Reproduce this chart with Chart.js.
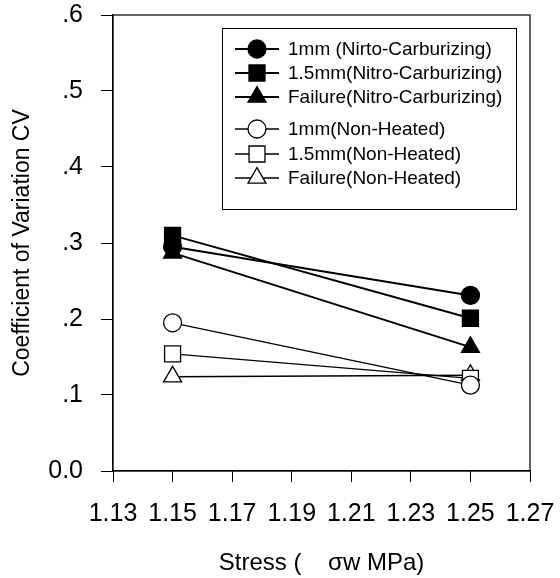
<!DOCTYPE html>
<html>
<head>
<meta charset="utf-8">
<script src="https://cdn.jsdelivr.net/npm/chart.js"></script>
<style>
  html, body { margin: 0; padding: 0; background: #fff; }
  #wrap { width: 560px; height: 578px; }
</style>
</head>
<body>
<div id="wrap"><canvas id="cv"></canvas></div>
<script>
// Stress levels (x) and coefficient of variation per specimen group
const stress   = [1.15, 1.25];
const nc1mm    = [0.295, 0.231];
const nc15mm   = [0.310, 0.201];
const ncFail   = [0.287, 0.163];
const nh1mm    = [0.195, 0.113];
const nh15mm   = [0.154, 0.122];
const nhFail   = [0.124, 0.126];

const seriesNames = [
  '1mm (Nirto-Carburizing)',
  '1.5mm(Nitro-Carburizing)',
  'Failure(Nitro-Carburizing)',
  '1mm(Non-Heated)',
  '1.5mm(Non-Heated)',
  'Failure(Non-Heated)'
];

const xTicks = [1.13, 1.15, 1.17, 1.19, 1.21, 1.23, 1.25, 1.27];
const yTicks = [0, 0.1, 0.2, 0.3, 0.4, 0.5, 0.6];

const FONT = "'Liberation Sans', Arial, sans-serif";

function pts(ys) {
  return stress.map((x, i) => ({ x: x, y: ys[i] }));
}

function serie(label, ys, style, filled) {
  const radius = style === 'circle' ? 9 : (style === 'rect' ? 11.3 : 10.4);
  return {
    label: label,
    data: pts(ys),
    borderColor: '#000',
    backgroundColor: filled ? '#000' : '#fff',
    borderWidth: filled ? 2 : 1.3,
    pointStyle: style,
    pointRadius: radius,
    pointHoverRadius: radius,
    pointBorderWidth: 1.3,
    pointBorderColor: '#000',
    pointBackgroundColor: filled ? '#000' : '#fff',
    tension: 0,
    fill: false
  };
}

const datasets = [
  serie(seriesNames[0], nc1mm,  'circle',   true),
  serie(seriesNames[1], nc15mm, 'rect',     true),
  serie(seriesNames[2], ncFail, 'triangle', true),
  serie(seriesNames[3], nh1mm,  'circle',   false),
  serie(seriesNames[4], nh15mm, 'rect',     false),
  serie(seriesNames[5], nhFail, 'triangle', false)
];

// marker used in the boxed legend
function drawMarker(ctx, style, r, x, y, fill) {
  ctx.beginPath();
  if (style === 'circle') {
    ctx.arc(x, y, r, 0, Math.PI * 2);
  } else if (style === 'rect') {
    const s = r * Math.SQRT1_2;
    ctx.rect(x - s, y - s, 2 * s, 2 * s);
  } else {
    const a = Math.PI * 2 / 3;
    ctx.moveTo(x, y - r);
    ctx.lineTo(x + Math.sin(a) * r, y - Math.cos(a) * r);
    ctx.lineTo(x + Math.sin(2 * a) * r, y - Math.cos(2 * a) * r);
    ctx.closePath();
  }
  ctx.fillStyle = fill;
  ctx.fill();
  ctx.lineWidth = 1.3;
  ctx.strokeStyle = '#000';
  ctx.stroke();
}

const frameAndLegend = {
  id: 'frameAndLegend',
  afterDatasetsDraw(chart) {
    const ctx = chart.ctx;
    const a = chart.chartArea;
    ctx.save();
    // closed frame round the plot
    ctx.strokeStyle = '#000';
    ctx.lineWidth = 1.2;
    ctx.strokeRect(a.left, a.top, a.right - a.left, a.bottom - a.top);

    // legend box
    const bx = 222, by = 28, bw = 294, bh = 181;
    ctx.fillStyle = '#fff';
    ctx.fillRect(bx, by, bw, bh);
    ctx.lineWidth = 1;
    ctx.strokeRect(bx + 0.5, by + 0.5, bw, bh);

    const rows = [49, 73, 97, 129, 154, 178];
    ctx.font = '19px ' + FONT;
    ctx.textBaseline = 'middle';
    chart.data.datasets.forEach((ds, i) => {
      const y = rows[i];
      ctx.beginPath();
      ctx.moveTo(235, y);
      ctx.lineTo(279, y);
      ctx.lineWidth = ds.borderWidth;
      ctx.strokeStyle = '#000';
      ctx.stroke();
      drawMarker(ctx, ds.pointStyle, ds.pointRadius, 257, y, ds.pointBackgroundColor);
      ctx.fillStyle = '#000';
      ctx.fillText(ds.label, 288, y + 1);
    });
    ctx.restore();
  }
};

new Chart(document.getElementById('cv'), {
  type: 'line',
  data: { datasets: datasets },
  plugins: [frameAndLegend],
  options: {
    responsive: true,
    maintainAspectRatio: false,
    animation: false,
    layout: { padding: { top: 15, right: 30, left: 0, bottom: 0 } },
    plugins: {
      legend: { display: false },
      tooltip: { enabled: false }
    },
    scales: {
      x: {
        type: 'linear',
        min: 1.13,
        max: 1.27,
        afterBuildTicks: s => { s.ticks = xTicks.map(v => ({ value: v })); },
        afterFit: s => { s.height = 107; s.paddingLeft = 0; s.paddingRight = 0; },
        grid: { drawOnChartArea: false, color: '#000', tickLength: 11, lineWidth: 1 },
        border: { color: '#000', width: 1.2 },
        ticks: {
          color: '#000',
          padding: 17,
          maxRotation: 0,
          autoSkip: false,
          font: { family: FONT, size: 25 },
          callback: v => v.toFixed(2)
        },
        title: {
          display: true,
          text: 'Stress (    \u03C3w MPa)',
          color: '#000',
          font: { family: FONT, size: 24 },
          padding: { top: 0, bottom: 0 }
        }
      },
      y: {
        min: 0,
        max: 0.6,
        afterBuildTicks: s => { s.ticks = yTicks.map(v => ({ value: v })); },
        afterFit: s => { s.width = 113; s.paddingTop = 0; s.paddingBottom = 0; },
        grid: { drawOnChartArea: false, color: '#000', tickLength: 12, lineWidth: 1 },
        border: { color: '#000', width: 1.2 },
        ticks: {
          color: '#000',
          padding: 18,
          font: { family: FONT, size: 25 },
          callback: v => v === 0 ? '0.0' : v.toFixed(1).replace(/^0/, '')
        },
        title: {
          display: true,
          text: 'Coefficient of Variation CV',
          color: '#000',
          font: { family: FONT, size: 23 },
          padding: { top: 9, bottom: 0 }
        }
      }
    }
  }
});
</script>
</body>
</html>
